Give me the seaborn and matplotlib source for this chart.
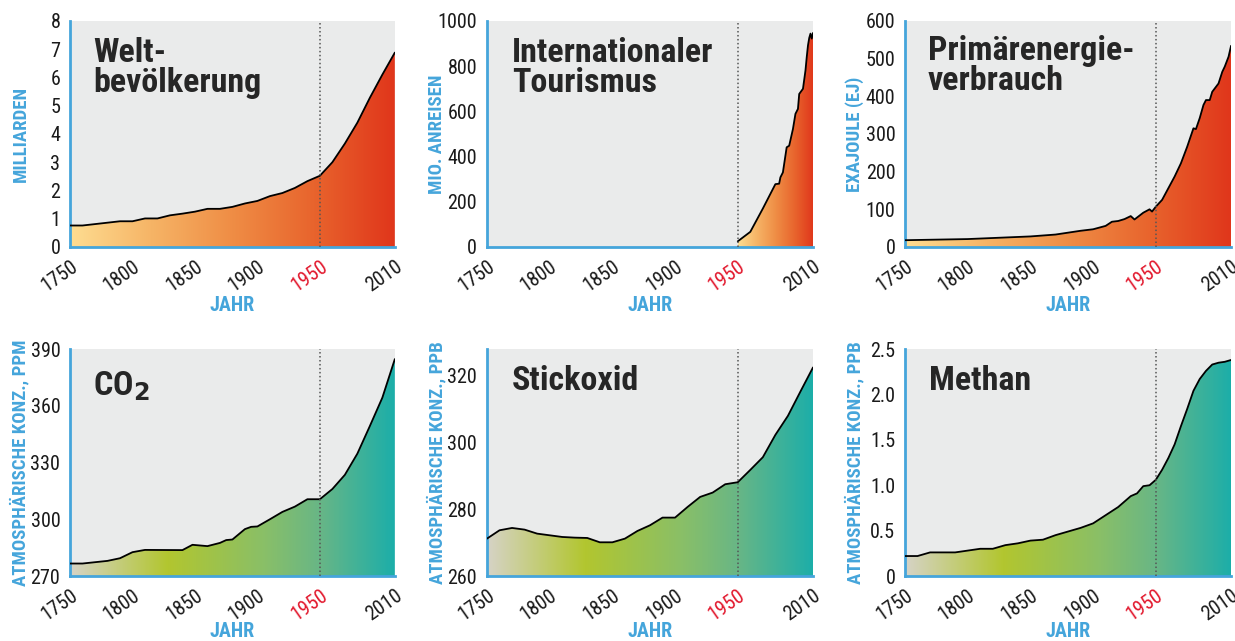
import numpy as np
import matplotlib
matplotlib.use("Agg")
import matplotlib.pyplot as plt
import seaborn as sns
from matplotlib import font_manager
from matplotlib.colors import LinearSegmentedColormap
from matplotlib.patches import Polygon

# values
pop_years = [1750, 1760, 1770, 1780, 1790, 1800, 1810, 1820, 1830, 1840, 1850, 1860, 1870, 1880,
             1890, 1900, 1910, 1920, 1930, 1940, 1950, 1960, 1970, 1980, 1990, 2000, 2010]
population = [0.76, 0.76, 0.81, 0.86, 0.91, 0.91, 1.01, 1.01, 1.12, 1.18, 1.25, 1.35, 1.35, 1.42,
              1.54, 1.63, 1.8, 1.91, 2.09, 2.33, 2.52, 3.0, 3.66, 4.4, 5.28, 6.1, 6.88]

tour_years = [1950, 1960, 1970, 1980, 1983, 1984, 1986, 1989, 1991, 1994, 1996, 1998, 1999, 2002,
              2004, 2005, 2006, 2007, 2008, 2009, 2010]
tourism = [25, 67, 170, 278, 280, 308, 330, 441, 448, 522, 589, 611, 677, 700,
           781, 840, 892, 925, 944, 922, 947]

energy_years = [1750, 1800, 1850, 1870, 1890, 1900, 1910, 1915, 1920, 1925, 1930, 1933, 1940, 1945,
                1947, 1950, 1955, 1960, 1965, 1970, 1975, 1980, 1982, 1985, 1988, 1990, 1993, 1995,
                2000, 2003, 2005, 2008, 2010]
energy = [18, 21, 28, 33, 43, 47, 56, 67, 69, 74, 82, 73, 91, 100,
          94, 107, 125, 156, 187, 222, 266, 315, 313, 342, 377, 390, 390, 412,
          434, 465, 479, 505, 534]

co2_years = [1750, 1760, 1780, 1790, 1800, 1810, 1840, 1848, 1860, 1870, 1875, 1880, 1890, 1895,
             1900, 1910, 1920, 1930, 1940, 1950, 1960, 1970, 1980, 1990, 2000, 2010]
co2 = [276.6, 276.6, 278, 279.4, 282.6, 283.8, 283.7, 286.5, 285.8, 287.5, 289, 289.3, 294.8, 296,
       296.2, 300, 303.9, 306.7, 310.6, 310.6, 316, 323.5, 334.7, 349.3, 364.3, 384.7]

n2o_years = [1750, 1760, 1770, 1780, 1790, 1800, 1810, 1820, 1830, 1840, 1850, 1860, 1870, 1880,
             1890, 1900, 1910, 1920, 1930, 1940, 1950, 1960, 1970, 1980, 1990, 2000, 2010]
n2o = [271.2, 273.7, 274.4, 273.9, 272.7, 272.2, 271.7, 271.5, 271.4, 270.1, 270.1, 271.2, 273.5, 275.2,
       277.5, 277.5, 280.7, 283.7, 285.0, 287.5, 288.1, 291.8, 295.6, 302.3, 308.0, 315.3, 322.5]

ch4_years = [1750, 1760, 1770, 1780, 1790, 1800, 1810, 1820, 1830, 1840, 1850, 1860, 1870, 1880,
             1890, 1900, 1910, 1920, 1930, 1935, 1940, 1945, 1950, 1955, 1960, 1965, 1970, 1975,
             1980, 1985, 1990, 1995, 2000, 2005, 2010]
methane = [0.22, 0.22, 0.26, 0.26, 0.26, 0.28, 0.30, 0.30, 0.34, 0.36, 0.39, 0.40, 0.45, 0.49,
           0.53, 0.58, 0.67, 0.76, 0.88, 0.91, 0.99, 1.0, 1.06, 1.17, 1.30, 1.45, 1.65, 1.84,
           2.04, 2.17, 2.26, 2.33, 2.35, 2.36, 2.38]

xticks = [1750, 1800, 1850, 1900, 1950, 2010]


def pick_font(names):
    for n in names:
        try:
            font_manager.findfont(n, fallback_to_default=False)
            return n
        except ValueError:
            pass
    return "DejaVu Sans"


sns.set_style("white")
FONT = pick_font(["Liberation Sans Narrow", "Noto Sans Condensed", "Noto Sans Cond",
                  "Roboto Condensed", "Open Sans Condensed", "DejaVu Sans"])
plt.rcParams["font.family"] = [FONT, "DejaVu Sans"]

BLUE = "#45a5db"
RED = "#e2182d"
warm = LinearSegmentedColormap.from_list(
    "warm", ["#fedd91", "#f6b466", "#ef8d45", "#e8642d", "#e0361b"])
cool = LinearSegmentedColormap.from_list(
    "cool", [(0, "#d6d3c6"), (0.3, "#b2c62f"), (0.6, "#89bf68"), (0.77, "#68b686"), (1, "#1caea9")])

fig = plt.figure(figsize=(12.35, 6.41), dpi=100)

lefts = [0.0567, 0.3943, 0.7328]
bottoms = [0.6147, 0.1014]


def panel(ax, years, vals, ylim, yticks, ylabels, ylabel, title, cmap, gstart, tpos, xlab_y=-0.215):
    ax.set_facecolor("#eaebeb")
    base = ylim[0]
    # gradient area below the curve
    verts = [(years[0], base)] + list(zip(years, vals)) + [(years[-1], base)]
    patch = Polygon(verts, closed=True, facecolor="none", edgecolor="none")
    ax.add_patch(patch)
    grad = np.linspace(0, 1, 256).reshape(1, -1)
    im = ax.imshow(grad, cmap=cmap, extent=[gstart, 2010, base, ylim[1]],
                   aspect="auto", origin="lower", zorder=1)
    im.set_clip_path(patch)
    sns.lineplot(x=years, y=vals, ax=ax, color="black", lw=1.3, zorder=3)
    ax.axvline(1950, color="#555555", ls=(0, (1, 1.6)), lw=1.1, zorder=4)

    ax.set_xlim(1750, 2010)
    ax.set_ylim(*ylim)
    ax.set_aspect("auto")
    for s in ["top", "right"]:
        ax.spines[s].set_visible(False)
    for s in ["left", "bottom"]:
        ax.spines[s].set_color(BLUE)
        ax.spines[s].set_linewidth(2)
    ax.tick_params(axis="both", direction="out", color=BLUE, width=1.5, length=5,
                   labelsize=14.5, labelcolor="#1a1a1a", pad=2)
    ax.set_xticks(xticks)
    ax.set_xticklabels([str(t) for t in xticks], rotation=35, ha="right",
                       rotation_mode="anchor")
    for lab in ax.get_xticklabels():
        if lab.get_text() == "1950":
            lab.set_color(RED)
    ax.set_yticks(yticks, labels=ylabels)
    ax.set_ylabel(ylabel, color=BLUE, fontweight="bold", fontsize=13.5)
    ax.yaxis.set_label_coords(-0.125, 0.5)
    ax.set_xlabel("JAHR", color=BLUE, fontweight="bold", fontsize=14.5, va="top")
    ax.xaxis.set_label_coords(0.5, xlab_y)
    ax.text(tpos[0], tpos[1], title, transform=ax.transAxes, fontsize=24.5,
            fontweight="bold", va="top", ha="left", linespacing=0.92, zorder=5)


ax = fig.add_axes([lefts[0], bottoms[0], 0.263, 0.3526])
panel(ax, pop_years, population, (0, 8), list(range(9)), [str(i) for i in range(9)],
      "MILLIARDEN", "Welt-\nbevölkerung", warm, 1750, (0.07, 0.93))

ax = fig.add_axes([lefts[1], bottoms[0], 0.264, 0.3526])
panel(ax, tour_years, tourism, (0, 1000), list(range(0, 1001, 200)),
      [str(i) for i in range(0, 1001, 200)],
      "MIO. ANREISEN", "Internationaler\nTourismus", warm, 1950, (0.077, 0.93))

ax = fig.add_axes([lefts[2], bottoms[0], 0.264, 0.3526])
panel(ax, energy_years, energy, (0, 600), list(range(0, 601, 100)),
      [str(i) for i in range(0, 601, 100)],
      "EXAJOULE (EJ)", "Primärenergie-\nverbrauch", warm, 1750, (0.07, 0.94))

ax = fig.add_axes([lefts[0], bottoms[1], 0.263, 0.354])
panel(ax, co2_years, co2, (270, 390), list(range(270, 391, 30)),
      [str(i) for i in range(270, 391, 30)],
      "ATMOSPHÄRISCHE KONZ., PPM", r"CO$_{\mathbf{2}}$", cool, 1750, (0.07, 0.91), -0.203)

ax = fig.add_axes([lefts[1], bottoms[1], 0.264, 0.354])
panel(ax, n2o_years, n2o, (260, 328), [260, 280, 300, 320], ["260", "280", "300", "320"],
      "ATMOSPHÄRISCHE KONZ., PPB", "Stickoxid", cool, 1750, (0.077, 0.93), -0.203)

ax = fig.add_axes([lefts[2], bottoms[1], 0.264, 0.354])
panel(ax, ch4_years, methane, (0, 2.5), [0, 0.5, 1.0, 1.5, 2.0, 2.5],
      ["0", "0.5", "1.0", "1.5", "2.0", "2.5"],
      "ATMOSPHÄRISCHE KONZ., PPB", "Methan", cool, 1750, (0.073, 0.93), -0.203)

fig.savefig("out.png", dpi=100, facecolor="white")
